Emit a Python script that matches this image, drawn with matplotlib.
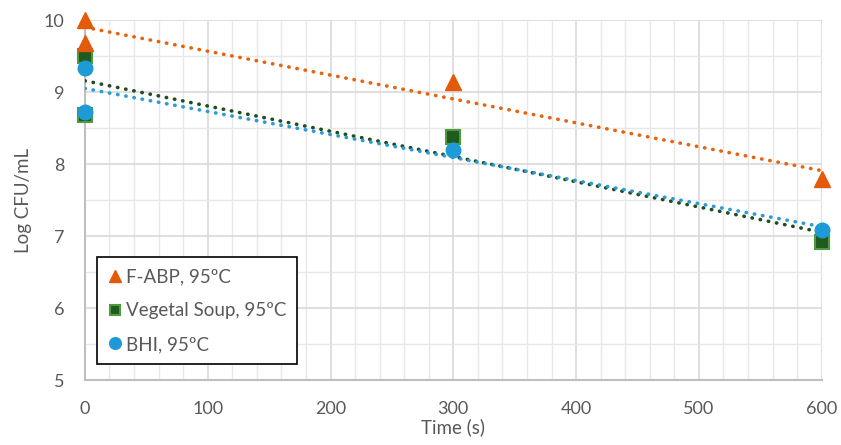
import numpy as np
import matplotlib
matplotlib.use('Agg')
import matplotlib.pyplot as plt
from matplotlib.ticker import MultipleLocator

# data
time_s = [0, 0, 300, 600]
fabp = [10.0, 9.68, 9.14, 7.79]
veg_soup = [9.5, 8.68, 8.37, 6.92]
bhi = [9.33, 8.72, 8.19, 7.08]

labels = ['F-ABP, 95ºC', 'Vegetal Soup, 95ºC', 'BHI, 95ºC']

plt.rcParams['font.family'] = ['Lato', 'DejaVu Sans']
txt = '#595959'

fig = plt.figure(figsize=(8.41, 4.45), dpi=100)
ax = fig.add_axes([0.101, 0.146, 0.876, 0.809])

# linear trendlines
xs = np.array([0, 600])
trend_cols = ['#e8620c', '#1e4d1e', '#2a9ad8']
for ys, c in zip([fabp, veg_soup, bhi], trend_cols):
    m, b = np.polyfit(time_s, ys, 1)
    ax.plot(xs, m * xs + b, linestyle=(0, (0.1, 2.2)), color=c, lw=2.6,
            zorder=3, dash_capstyle='round')

ax.plot(time_s, fabp, '^', color='#e35b0a', ms=11, mec='#e35b0a',
        label=labels[0], zorder=5, clip_on=False)
ax.plot(time_s, veg_soup, 's', color='#1f5a1f', ms=9.5, mec='#4f9a3f', mew=1.5,
        label=labels[1], zorder=4, clip_on=False)
ax.plot(time_s, bhi, 'o', color='#1e9ad6', ms=10.5, mec='#1e9ad6',
        label=labels[2], zorder=6, clip_on=False)

ax.set_xlim(0, 600)
ax.set_ylim(5, 10)
ax.xaxis.set_major_locator(MultipleLocator(100))
ax.xaxis.set_minor_locator(MultipleLocator(20))
ax.yaxis.set_major_locator(MultipleLocator(1))
ax.yaxis.set_minor_locator(MultipleLocator(0.5))
ax.grid(which='major', color='#d9d9d9', lw=1.2)
ax.grid(which='minor', color='#e8e8e8', lw=1.0)
ax.set_axisbelow(True)

for s in ['top', 'right']:
    ax.spines[s].set_visible(False)
for s in ['left', 'bottom']:
    ax.spines[s].set_color('#bfbfbf')
    ax.spines[s].set_linewidth(1.5)

ax.tick_params(which='both', length=0, labelsize=13, labelcolor=txt)
ax.tick_params(axis='x', pad=15)
ax.tick_params(axis='y', pad=15)
ax.set_xlabel('Time (s)', fontsize=13.5, color=txt, labelpad=1)
ax.set_ylabel('Log CFU/mL', fontsize=13.5, color=txt, labelpad=8)

leg = ax.legend(loc='lower left', bbox_to_anchor=(0.016, 0.044), fontsize=13.5,
                frameon=True, fancybox=False, handlelength=0.7, handletextpad=0.25,
                labelspacing=0.9, borderpad=0.6, labelcolor=txt, borderaxespad=0,
                markerscale=0.8)
leg.get_frame().set_edgecolor('black')
leg.get_frame().set_linewidth(1.2)
leg.get_frame().set_alpha(1)

fig.savefig('out.png', dpi=100)
